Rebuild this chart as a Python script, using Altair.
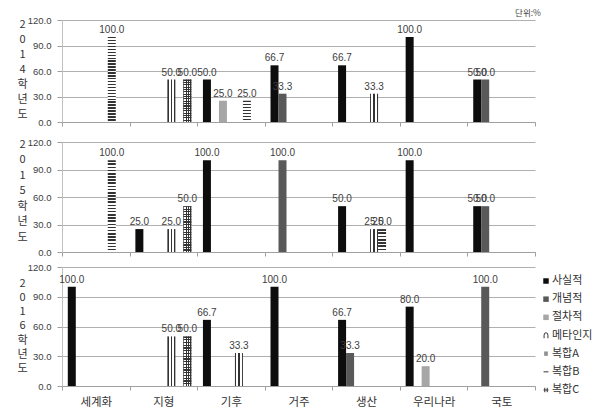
import altair as alt
import pandas as pd

categories = ["세계화", "지형", "기후", "거주", "생산", "우리나라", "국토"]
series = ["사실적", "개념적", "절차적", "메타인지", "복합A", "복합B", "복합C"]
solid_colors = ["#0d0d0d", "#595959", "#a6a6a6"]
y_ticks = [0, 30, 60, 90, 120]
unit_label = "단위:%"

# rows follow `series`, columns follow `categories`
values_2014 = [
    [0, 0, 50.0, 66.7, 66.7, 100.0, 50.0],
    [0, 0, 0, 33.3, 0, 0, 50.0],
    [0, 0, 25.0, 0, 0, 0, 0],
    [0, 0, 0, 0, 0, 0, 0],
    [0, 50.0, 0, 0, 33.3, 0, 0],
    [100.0, 0, 25.0, 0, 0, 0, 0],
    [0, 50.0, 0, 0, 0, 0, 0],
]
values_2015 = [
    [0, 25.0, 100.0, 0, 50.0, 100.0, 50.0],
    [0, 0, 0, 100.0, 0, 0, 50.0],
    [0, 0, 0, 0, 0, 0, 0],
    [0, 0, 0, 0, 0, 0, 0],
    [0, 25.0, 0, 0, 25.0, 0, 0],
    [100.0, 0, 0, 0, 25.0, 0, 0],
    [0, 50.0, 0, 0, 0, 0, 0],
]
values_2016 = [
    [100.0, 0, 66.7, 100.0, 66.7, 80.0, 0],
    [0, 0, 0, 0, 33.3, 0, 100.0],
    [0, 0, 0, 0, 0, 20.0, 0],
    [0, 0, 0, 0, 0, 0, 0],
    [0, 50.0, 33.3, 0, 0, 0, 0],
    [0, 0, 0, 0, 0, 0, 0],
    [0, 50.0, 0, 0, 0, 0, 0],
]

DARK = "#333333"
WHITE = "#ffffff"
CLEAR = "rgba(255,255,255,0)"
KFONT = "Noto Sans CJK KR"
NFONT = "Liberation Sans"


def grad(bands, horizontal):
    """bands: list of (color, start, end) in bbox fractions."""
    stops = []
    for c, a, b in bands:
        stops.append(alt.GradientStop(color=c, offset=round(a, 4)))
        stops.append(alt.GradientStop(color=c, offset=round(b, 4)))
    if horizontal:
        return alt.LinearGradient(gradient="linear", stops=stops, x1=0, x2=1, y1=0, y2=0)
    return alt.LinearGradient(gradient="linear", stops=stops, x1=0, x2=0, y1=0, y2=1)


def stripes(n, fg, bg, duty=0.5):
    bands = []
    for k in range(n):
        bands.append((fg, k / n, (k + duty) / n))
        bands.append((bg, (k + duty) / n, (k + 1) / n))
    return bands


grad_A = grad([(DARK, 0, 0.15), (WHITE, 0.15, 0.42), (DARK, 0.42, 0.58),
               (WHITE, 0.58, 0.85), (DARK, 0.85, 1)], True)
grad_B_long = grad(stripes(29, DARK, WHITE), False)
grad_B_short = grad(stripes(7, DARK, WHITE), False)
grad_C_h = grad(stripes(18, DARK, WHITE, 0.45), False)
grad_C_v = grad([(DARK, 0, 0.12), (CLEAR, 0.12, 0.3), (DARK, 0.3, 0.42), (CLEAR, 0.42, 0.58),
                 (DARK, 0.58, 0.7), (CLEAR, 0.7, 0.88), (DARK, 0.88, 1)], True)

legend_paths = [
    "M-0.7,1L-0.7,-0.1Q-0.7,-1,0,-1Q0.7,-1,0.7,-0.1L0.7,1",
    "M-0.35,-0.8L-0.35,0.8M0.35,-0.8L0.35,0.8",
    "M-0.9,0L0.9,0",
    "M-0.45,-0.8L-0.45,0.8M0.45,-0.8L0.45,0.8M-0.9,0L0.9,0",
]

color_scale = alt.Scale(domain=series[:3], range=solid_colors)


def make_df(vals):
    rows = []
    for si, s in enumerate(series):
        for ci, c in enumerate(categories):
            v = vals[si][ci]
            if v > 0:
                rows.append({"series": s, "category": c, "value": v})
    return pd.DataFrame(rows)


def panel(year, vals, height, title_y, title_lh, bottom, unit=False, legend=False):
    df = make_df(vals)
    xaxis = alt.Axis(title=None, labels=bottom, tickBand="extent", ticks=True, tickSize=4,
                     tickColor="#a0a0a0", domainColor="#a0a0a0", grid=False, labelAngle=0,
                     labelFont=KFONT, labelFontSize=11.5, labelColor="#333333", labelPadding=6)
    yaxis = alt.Axis(values=y_ticks, format=".1f", labelFont=NFONT, labelFontSize=9.5,
                     labelColor="#404040", tickSize=5, tickColor="#a0a0a0", domainColor="#c0c0c0",
                     gridColor="#b0b0b0", labelPadding=6,
                     title=list(year) + ["학", "년", "도"], titleAngle=0, titleAlign="center",
                     titleBaseline="middle", titleX=-40, titleY=title_y, titleLineHeight=title_lh,
                     titleFont=KFONT, titleFontSize=11, titleFontWeight="normal", titleColor="#333333")
    base = alt.Chart(df).encode(
        x=alt.X("category:N", sort=categories,
                scale=alt.Scale(domain=categories, paddingInner=0, paddingOuter=0), axis=xaxis),
        xOffset=alt.XOffset("series:N", sort=series,
                            scale=alt.Scale(domain=series, paddingInner=0, paddingOuter=0.725)),
        y=alt.Y("value:Q", scale=alt.Scale(domain=[0, 120]), axis=yaxis),
    )
    is_s = lambda s: alt.datum.series == s
    layers = [
        base.mark_bar().encode(color=alt.Color("series:N", scale=color_scale, legend=None))
        .transform_filter(alt.FieldOneOfPredicate(field="series", oneOf=series[:3])),
        base.mark_bar(fill=grad_A).transform_filter(is_s("복합A")),
        base.mark_bar(fill=grad_B_long).transform_filter(is_s("복합B") & (alt.datum.value >= 75)),
        base.mark_bar(fill=grad_B_short).transform_filter(is_s("복합B") & (alt.datum.value < 75)),
        base.mark_bar(fill=grad_C_h).transform_filter(is_s("복합C")),
        base.mark_bar(fill=grad_C_v).transform_filter(is_s("복합C")),
        base.mark_text(baseline="bottom", dy=-2, fontSize=10, color="#404040", font=NFONT)
        .encode(text=alt.Text("value:Q", format=".1f")),
    ]
    if unit:
        layers.append(
            alt.Chart(pd.DataFrame({"t": [unit_label]})).mark_text(
                fontSize=8.5, font=KFONT, color="#404040", baseline="middle")
            .encode(x=alt.value(466), y=alt.value(-7), text="t:N"))
    bars = alt.layer(*layers).properties(width=473, height=height)
    if not legend:
        return bars
    leg_df = pd.DataFrame({"series": series})
    leg_y = alt.Y("series:N", sort=series,
                  scale=alt.Scale(type="point", domain=series, range=[14, 123], padding=0), axis=None)
    sym_solid = alt.Chart(leg_df).transform_filter(
        alt.FieldOneOfPredicate(field="series", oneOf=series[:3])
    ).mark_point(filled=True, shape="square", size=30, opacity=1).encode(
        x=alt.value(484), y=leg_y, color=alt.Color("series:N", scale=color_scale, legend=None))
    sym_pat = alt.Chart(leg_df).transform_filter(
        alt.FieldOneOfPredicate(field="series", oneOf=series[3:])
    ).mark_point(filled=False, size=30, opacity=1, color="#333333", strokeWidth=1).encode(
        x=alt.value(484), y=leg_y,
        shape=alt.Shape("series:N", scale=alt.Scale(domain=series[3:], range=legend_paths), legend=None))
    leg_text = alt.Chart(leg_df).mark_text(align="left", baseline="middle", font=KFONT,
                                           fontSize=11, color="#333333").encode(
        x=alt.value(490), y=leg_y, text="series:N")
    leg = alt.layer(sym_solid, sym_pat, leg_text)
    return alt.layer(bars, leg).resolve_scale(y="independent")


p1 = panel("2014", values_2014, 102, 4, 15, False, unit=True)
p2 = panel("2015", values_2015, 110, 2, 15.5, False)
p3 = panel("2016", values_2016, 119, 16, 14.3, True, legend=True)

chart = alt.vconcat(
    alt.vconcat(p1, p2, spacing=10), p3, spacing=5
).properties(
    padding={"left": 16, "top": 9, "right": 0, "bottom": 0}, background="white"
).configure_view(strokeWidth=0)

chart.save("out.html", embed_options={"renderer": "svg", "actions": False})
